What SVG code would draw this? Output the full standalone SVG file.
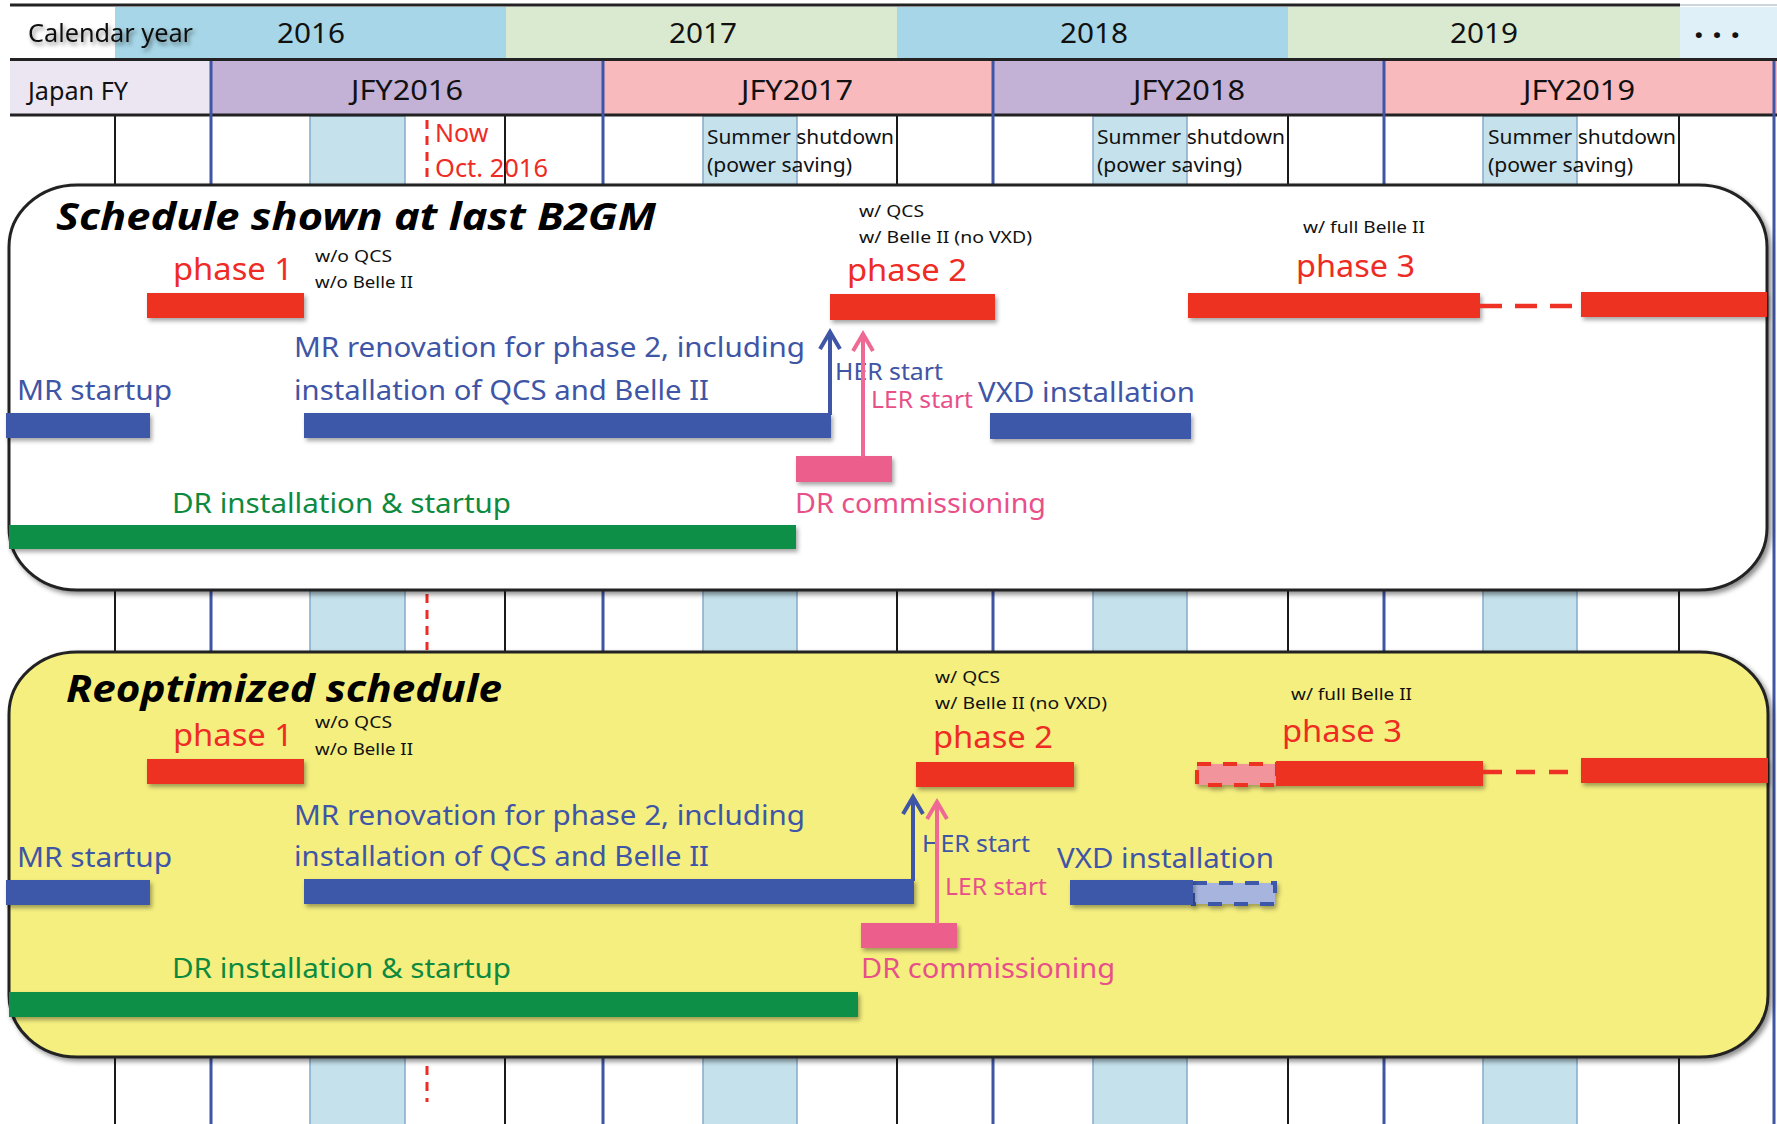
<svg xmlns="http://www.w3.org/2000/svg" width="1777" height="1124" viewBox="0 0 1777 1124">
<defs>
<style>
text{font-family:"Noto Sans","Open Sans","Liberation Sans",sans-serif}
.hdr{font-size:25px;fill:#111}
.yr{font-size:27px;fill:#111;text-anchor:middle}
.now{font-size:25px;fill:#ee2b24}
.ss{font-size:20px;fill:#111}
.title{font-size:38px;font-weight:bold;font-style:italic;fill:#000}
.ph{font-size:31px;fill:#ee2b24}
.sm{font-size:17px;fill:#111}
.big{font-size:28px}
.st{font-size:23px}
.blue{fill:#3f55a5}
.green{fill:#0e8a40}
.pink{fill:#e8508a}
.rb{fill:#ee3124}
.bb{fill:#3e58a8}
.gb{fill:#078f47}
.pb{fill:#ec5f8d}
.vblk{stroke:#1a1a1a;stroke-width:2}
.vblu{stroke:#3f55a5;stroke-width:3}
.sd{fill:#c5e1ec;stroke:#86aacb;stroke-width:1.5}
.hl{stroke:#222;stroke-width:3}
.nowl{stroke:#ee2b24;stroke-width:3;stroke-dasharray:9 7}
</style>
<filter id="sh" x="-10%" y="-30%" width="130%" height="190%">
<feDropShadow dx="2" dy="3" stdDeviation="2" flood-color="#000" flood-opacity="0.35"/>
</filter>
<filter id="bsh" x="-5%" y="-5%" width="110%" height="115%">
<feDropShadow dx="3" dy="3" stdDeviation="2.5" flood-color="#000" flood-opacity="0.45"/>
</filter>
<filter id="tsh" x="-10%" y="-30%" width="130%" height="190%">
<feDropShadow dx="2" dy="3" stdDeviation="2" flood-color="#000" flood-opacity="0.45"/>
</filter>
<marker id="ahB" markerUnits="userSpaceOnUse" markerWidth="30" markerHeight="30" refX="17" refY="10" orient="auto" overflow="visible">
<path d="M0,0 L17,10 L0,20" fill="none" stroke="#3f55a5" stroke-width="4"/>
</marker>
<marker id="ahP" markerUnits="userSpaceOnUse" markerWidth="30" markerHeight="30" refX="17" refY="10" orient="auto" overflow="visible">
<path d="M0,0 L17,10 L0,20" fill="none" stroke="#ee6a95" stroke-width="4"/>
</marker>
</defs>

<rect x="0" y="0" width="1777" height="1124" fill="#ffffff"/>

<!-- grid background -->
<g id="grid">
<rect class="sd" x="310" y="116" width="95" height="1010"/>
<rect class="sd" x="703" y="116" width="94" height="1010"/>
<rect class="sd" x="1093" y="116" width="94" height="1010"/>
<rect class="sd" x="1483" y="116" width="94" height="1010"/>
<line class="vblk" x1="115" y1="116" x2="115" y2="1124"/>
<line class="vblk" x1="505" y1="116" x2="505" y2="1124"/>
<line class="vblk" x1="897" y1="116" x2="897" y2="1124"/>
<line class="vblk" x1="1288" y1="116" x2="1288" y2="1124"/>
<line class="vblk" x1="1679" y1="116" x2="1679" y2="1124"/>
<line class="nowl" x1="427" y1="120" x2="427" y2="186"/>
<line class="nowl" x1="427" y1="594" x2="427" y2="650"/>
<line class="nowl" x1="427" y1="1066" x2="427" y2="1102"/>
</g>

<!-- header -->
<g id="header">
<rect x="115" y="7" width="391" height="51" fill="#a6d6e7"/>
<rect x="506" y="7" width="391" height="51" fill="#d9ead0"/>
<rect x="897" y="7" width="391" height="51" fill="#a6d6e7"/>
<rect x="1288" y="7" width="392" height="51" fill="#d9ead0"/>
<rect x="1680" y="7" width="97" height="51" fill="#dff0f8"/>
<rect x="10" y="61" width="201" height="53" fill="#ece6f2"/>
<rect x="211" y="61" width="392" height="53" fill="#c3b2d6"/>
<rect x="603" y="61" width="390" height="53" fill="#f9babd"/>
<rect x="993" y="61" width="391" height="53" fill="#c3b2d6"/>
<rect x="1384" y="61" width="393" height="53" fill="#f9babd"/>
<line class="hl" x1="10" y1="5" x2="1680" y2="5"/>
<line x1="1680" y1="5" x2="1777" y2="5" stroke="#9ab" stroke-width="1"/>
<line class="hl" x1="10" y1="59.5" x2="1777" y2="59.5"/>
<line class="hl" x1="10" y1="115" x2="1777" y2="115"/>
<line class="vblu" x1="211" y1="61" x2="211" y2="1124"/>
<line class="vblu" x1="603" y1="61" x2="603" y2="1124"/>
<line class="vblu" x1="993" y1="61" x2="993" y2="1124"/>
<line class="vblu" x1="1384" y1="61" x2="1384" y2="1124"/>
<line class="vblu" x1="1774" y1="61" x2="1774" y2="1124"/>
<text class="hdr" x="28" y="42" textLength="165" lengthAdjust="spacingAndGlyphs" filter="url(#tsh)">Calendar year</text>
<text class="yr" x="311" y="43" textLength="68" lengthAdjust="spacingAndGlyphs">2016</text>
<text class="yr" x="703" y="43" textLength="68" lengthAdjust="spacingAndGlyphs">2017</text>
<text class="yr" x="1094" y="43" textLength="68" lengthAdjust="spacingAndGlyphs">2018</text>
<text class="yr" x="1484" y="43" textLength="68" lengthAdjust="spacingAndGlyphs">2019</text>
<text x="1694" y="38" font-size="34" font-weight="bold" fill="#111" textLength="46" lengthAdjust="spacing">...</text>
<text class="hdr" x="28" y="100" textLength="100" lengthAdjust="spacingAndGlyphs">Japan FY</text>
<text class="yr" x="407" y="100" textLength="112" lengthAdjust="spacingAndGlyphs">JFY2016</text>
<text class="yr" x="797" y="100" textLength="112" lengthAdjust="spacingAndGlyphs">JFY2017</text>
<text class="yr" x="1189" y="100" textLength="112" lengthAdjust="spacingAndGlyphs">JFY2018</text>
<text class="yr" x="1579" y="100" textLength="112" lengthAdjust="spacingAndGlyphs">JFY2019</text>
<text class="now" x="435" y="142">Now</text>
<text class="now" x="435" y="177" textLength="113" lengthAdjust="spacingAndGlyphs">Oct. 2016</text>
<text class="ss" x="707" y="144" textLength="187" lengthAdjust="spacingAndGlyphs">Summer shutdown</text>
<text class="ss" x="707" y="172" textLength="145" lengthAdjust="spacingAndGlyphs">(power saving)</text>
<text class="ss" x="1097" y="144" textLength="188" lengthAdjust="spacingAndGlyphs">Summer shutdown</text>
<text class="ss" x="1097" y="172" textLength="145" lengthAdjust="spacingAndGlyphs">(power saving)</text>
<text class="ss" x="1488" y="144" textLength="188" lengthAdjust="spacingAndGlyphs">Summer shutdown</text>
<text class="ss" x="1488" y="172" textLength="145" lengthAdjust="spacingAndGlyphs">(power saving)</text>
</g>

<!-- Box 1 -->
<g id="box1">
<rect x="9" y="185" width="1758" height="405" rx="68" ry="62" fill="#ffffff" stroke="#222" stroke-width="3" filter="url(#bsh)"/>
<text class="title" x="56" y="230" textLength="600" lengthAdjust="spacingAndGlyphs">Schedule shown at last B2GM</text>
</g>
<g id="b1-phase1">
<text class="ph" x="173" y="280" textLength="120" lengthAdjust="spacingAndGlyphs">phase 1</text>
<text class="sm" x="315" y="262" textLength="77" lengthAdjust="spacingAndGlyphs">w/o QCS</text>
<text class="sm" x="315" y="288" textLength="98" lengthAdjust="spacingAndGlyphs">w/o Belle II</text>
<rect class="rb" x="147" y="293" width="157" height="25" filter="url(#sh)"/>
</g>
<g id="b1-phase2">
<text class="sm" x="859" y="217" textLength="65" lengthAdjust="spacingAndGlyphs">w/ QCS</text>
<text class="sm" x="859" y="243" textLength="173" lengthAdjust="spacingAndGlyphs">w/ Belle II (no VXD)</text>
<text class="ph" x="847" y="281" textLength="120" lengthAdjust="spacingAndGlyphs">phase 2</text>
<rect class="rb" x="830" y="294" width="165" height="26" filter="url(#sh)"/>
</g>
<g id="b1-phase3">
<text class="sm" x="1303" y="233" textLength="122" lengthAdjust="spacingAndGlyphs">w/ full Belle II</text>
<text class="ph" x="1296" y="277" textLength="119" lengthAdjust="spacingAndGlyphs">phase 3</text>
<rect class="rb" x="1188" y="293" width="292" height="25" filter="url(#sh)"/>
<line x1="1480" y1="306" x2="1581" y2="306" stroke="#ee3124" stroke-width="4.5" stroke-dasharray="22 13"/>
<rect class="rb" x="1581" y="292" width="186" height="25" filter="url(#sh)"/>
</g>
<g id="b1-mrstartup">
<text class="big blue" x="17" y="400" textLength="155" lengthAdjust="spacingAndGlyphs">MR startup</text>
<rect class="bb" x="6" y="413" width="144" height="25" filter="url(#sh)"/>
</g>
<g id="b1-mrrenovation">
<text class="big blue" x="294" y="357" textLength="511" lengthAdjust="spacingAndGlyphs">MR renovation for phase 2, including</text>
<text class="big blue" x="294" y="400" textLength="415" lengthAdjust="spacingAndGlyphs">installation of QCS and Belle II</text>
<rect class="bb" x="304" y="413" width="527" height="25" filter="url(#sh)"/>
</g>
<g id="b1-vxd">
<text class="big blue" x="978" y="402" textLength="217" lengthAdjust="spacingAndGlyphs">VXD installation</text>
<rect class="bb" x="990" y="413" width="201" height="26" filter="url(#sh)"/>
</g>
<g id="b1-drcomm">
<rect class="pb" x="796" y="456" width="96" height="26" filter="url(#sh)"/>
<text class="big pink" x="795" y="513" textLength="251" lengthAdjust="spacingAndGlyphs">DR commissioning</text>
</g>
<g id="b1-drinst">
<text class="big green" x="172" y="513" textLength="339" lengthAdjust="spacingAndGlyphs">DR installation &amp; startup</text>
<rect class="gb" x="9" y="525" width="787" height="24" filter="url(#sh)"/>
</g>
<g id="b1-her">
<text class="st blue" x="835" y="380" textLength="108" lengthAdjust="spacingAndGlyphs">HER start</text>
</g>
<g id="b1-ler">
<text class="st pink" x="871" y="408" textLength="102" lengthAdjust="spacingAndGlyphs">LER start</text>
</g>

<!-- Box 2 -->
<g id="box2">
<rect x="9" y="652" width="1759" height="405" rx="68" ry="62" fill="#f5ef7f" stroke="#222" stroke-width="3" filter="url(#bsh)"/>
<text class="title" x="66" y="702" textLength="436" lengthAdjust="spacingAndGlyphs">Reoptimized schedule</text>
</g>
<g id="b2-phase1">
<text class="ph" x="173" y="746" textLength="120" lengthAdjust="spacingAndGlyphs">phase 1</text>
<text class="sm" x="315" y="728" textLength="77" lengthAdjust="spacingAndGlyphs">w/o QCS</text>
<text class="sm" x="315" y="755" textLength="98" lengthAdjust="spacingAndGlyphs">w/o Belle II</text>
<rect class="rb" x="147" y="759" width="157" height="25" filter="url(#sh)"/>
</g>
<g id="b2-phase2">
<text class="sm" x="935" y="683" textLength="65" lengthAdjust="spacingAndGlyphs">w/ QCS</text>
<text class="sm" x="935" y="709" textLength="172" lengthAdjust="spacingAndGlyphs">w/ Belle II (no VXD)</text>
<text class="ph" x="933" y="748" textLength="120" lengthAdjust="spacingAndGlyphs">phase 2</text>
<rect class="rb" x="916" y="762" width="158" height="25" filter="url(#sh)"/>
</g>
<g id="b2-phase3">
<text class="sm" x="1291" y="700" textLength="121" lengthAdjust="spacingAndGlyphs">w/ full Belle II</text>
<text class="ph" x="1282" y="742" textLength="120" lengthAdjust="spacingAndGlyphs">phase 3</text>
<rect x="1197" y="764" width="80" height="21" fill="#f1949c" stroke="#ee3124" stroke-width="4" stroke-dasharray="14 12" filter="url(#sh)"/>
<rect class="rb" x="1276" y="761" width="207" height="25" filter="url(#sh)"/>
<line x1="1483" y1="772" x2="1581" y2="772" stroke="#ee3124" stroke-width="4.5" stroke-dasharray="19 14"/>
<rect class="rb" x="1581" y="758" width="187" height="25" filter="url(#sh)"/>
</g>
<g id="b2-mrstartup">
<text class="big blue" x="17" y="867" textLength="155" lengthAdjust="spacingAndGlyphs">MR startup</text>
<rect class="bb" x="6" y="880" width="144" height="25" filter="url(#sh)"/>
</g>
<g id="b2-mrrenovation">
<text class="big blue" x="294" y="825" textLength="511" lengthAdjust="spacingAndGlyphs">MR renovation for phase 2, including</text>
<text class="big blue" x="294" y="866" textLength="415" lengthAdjust="spacingAndGlyphs">installation of QCS and Belle II</text>
<rect class="bb" x="304" y="879" width="610" height="25" filter="url(#sh)"/>
</g>
<g id="b2-vxd">
<text class="big blue" x="1057" y="868" textLength="217" lengthAdjust="spacingAndGlyphs">VXD installation</text>
<rect x="1193" y="883" width="82" height="21" fill="#a7b5de" stroke="#3e58a8" stroke-width="4" stroke-dasharray="14 12" filter="url(#sh)"/>
<rect class="bb" x="1070" y="880" width="123" height="25" filter="url(#sh)"/>
</g>
<g id="b2-drcomm">
<rect class="pb" x="861" y="923" width="96" height="25" filter="url(#sh)"/>
<text class="big pink" x="861" y="978" textLength="254" lengthAdjust="spacingAndGlyphs">DR commissioning</text>
</g>
<g id="b2-drinst">
<text class="big green" x="172" y="978" textLength="339" lengthAdjust="spacingAndGlyphs">DR installation &amp; startup</text>
<rect class="gb" x="9" y="992" width="849" height="25" filter="url(#sh)"/>
</g>
<g id="b2-her">
<text class="st blue" x="922" y="852" textLength="108" lengthAdjust="spacingAndGlyphs">HER start</text>
</g>
<g id="b2-ler">
<text class="st pink" x="945" y="895" textLength="102" lengthAdjust="spacingAndGlyphs">LER start</text>
</g>

<!-- connectors -->
<g id="connectors" fill="none" stroke-width="4">
<line x1="830" y1="415" x2="830" y2="332" stroke="#3f55a5" marker-end="url(#ahB)"/>
<line x1="863" y1="457" x2="863" y2="334" stroke="#ee6a95" marker-end="url(#ahP)"/>
<line x1="913" y1="881" x2="913" y2="797" stroke="#3f55a5" marker-end="url(#ahB)"/>
<line x1="937" y1="924" x2="937" y2="802" stroke="#ee6a95" marker-end="url(#ahP)"/>
</g>
</svg>
